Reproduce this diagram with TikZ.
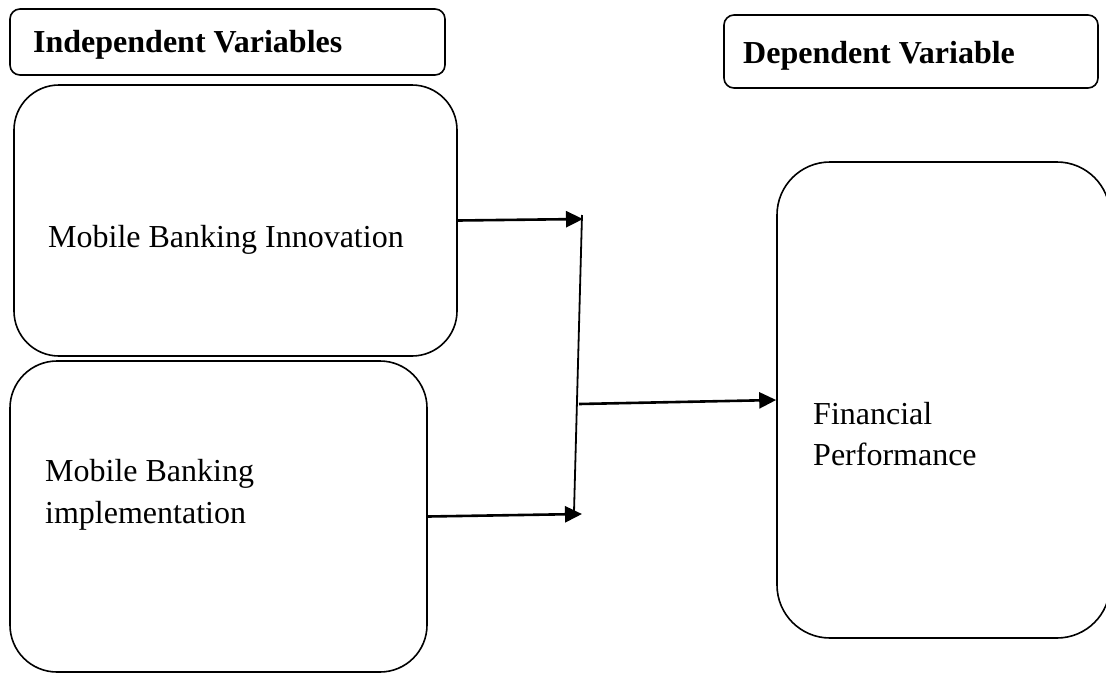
\documentclass[tikz,border=0pt]{standalone}
\usepackage{fontspec}
\setmainfont{Liberation Serif}
\usetikzlibrary{arrows.meta}

\begin{document}
\begin{tikzpicture}
    	[x=1pt, y=-1pt,
    	 headbox/.style={draw, line width=1.6pt, rounded corners=10pt, inner sep=0pt},
    	 varbox/.style={draw, line width=1.6pt, inner sep=0pt},
    	 txt/.style={anchor=base west, inner sep=0pt, font=\fontsize{32}{38}\selectfont},
    	 flow/.style={line width=2.6pt, -{Triangle[length=17pt, width=16pt]}}]
    	\useasboundingbox (0,0) rectangle (1106,673);

    	\node (hdind) at (227.5,42) [headbox, minimum width=435pt, minimum height=66pt] {};
    	\node (hddep) at (911,51.5) [headbox, minimum width=374pt, minimum height=73pt] {};
    	\node (tind) at (33,52) [txt, font=\fontsize{32}{38}\selectfont\bfseries] {Independent Variables};
    	\node (tdep) at (743,63) [txt, font=\fontsize{32}{38}\selectfont\bfseries] {Dependent Variable};

    	\node (inno) at (235.5,220.5) [varbox, rounded corners=45pt, minimum width=443pt, minimum height=271pt] {};
    	\node (impl) at (218.5,516.5) [varbox, rounded corners=47pt, minimum width=417pt, minimum height=311pt] {};
    	\node (perf) at (943.5,400) [varbox, rounded corners=53pt, minimum width=333pt, minimum height=476pt] {};

    	\node (tinno) at (48,247) [txt] {Mobile Banking Innovation};
    	\node (timpl1) at (45,481) [txt] {Mobile Banking};
    	\node (timpl2) at (45,523) [txt] {implementation};
    	\node (tperf1) at (813,424) [txt] {Financial};
    	\node (tperf2) at (813,465) [txt] {Performance};

    	\coordinate (jtop) at (582,215);
    	\coordinate (jbot) at (574,512);
    	\coordinate (jmid) at (579,404);
    	\coordinate (tipa) at (583,219);
    	\coordinate (tipb) at (582,514);

    	\draw[flow] (inno.east) -- (tipa);
    	\draw[flow] (impl.east) -- (tipb);
    	\draw[line width=1.8pt] (jtop) -- (jbot);
    	\draw[flow] (jmid) -- (perf.west);
\end{tikzpicture}
\end{document}
